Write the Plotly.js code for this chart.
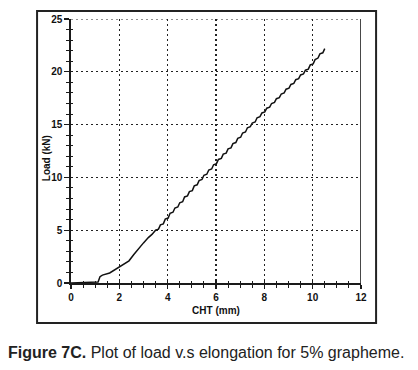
<!DOCTYPE html>
<html>
<head>
<meta charset="utf-8">
<script src="https://cdn.plot.ly/plotly-3.0.1.min.js"></script>
<style>
html,body{margin:0;padding:0;background:#fff;}
#chart{width:418px;height:370px;}
</style>
</head>
<body>
<div id="chart"></div>
<script>
// Elongation (CHT, mm) and load (kN)
const elongation = [0, 0.6, 1.12, 1.2, 1.3, 1.6, 1.85, 2.0, 2.2, 2.4, 2.6, 2.8, 3.0, 3.2, 3.35,
  3.5, 3.62, 3.7, 3.82, 3.9, 4.02, 4.1, 4.22, 4.3, 4.42, 4.5, 4.62, 4.7, 4.82, 4.9, 5.02,
  5.1, 5.22, 5.3, 5.42, 5.5, 5.62, 5.7, 5.82, 5.9, 6.02, 6.1, 6.22, 6.3, 6.42, 6.5, 6.62,
  6.7, 6.82, 6.9, 7.02, 7.1, 7.22, 7.3, 7.42, 7.5, 7.62, 7.7, 7.82, 7.9, 8.02, 8.1, 8.22,
  8.3, 8.42, 8.5, 8.62, 8.7, 8.82, 8.9, 9.02, 9.1, 9.22, 9.3, 9.42, 9.5, 9.62, 9.7, 9.82,
  9.9, 10.02, 10.1, 10.22, 10.3, 10.42, 10.5];
const load = [0, 0.05, 0.1, 0.6, 0.75, 0.95, 1.3, 1.55, 1.75, 2.1, 2.7, 3.3, 3.8, 4.3, 4.6,
  5.0, 5.1, 5.5, 5.6, 6.05, 6.15, 6.6, 6.7, 7.1, 7.2, 7.6, 7.7, 8.15, 8.25, 8.65, 8.75,
  9.2, 9.3, 9.7, 9.8, 10.2, 10.3, 10.7, 10.8, 11.2, 11.3, 11.7, 11.8, 12.2, 12.3, 12.7, 12.8,
  13.2, 13.3, 13.7, 13.8, 14.2, 14.3, 14.7, 14.8, 15.15, 15.25, 15.65, 15.75, 16.1, 16.2, 16.55, 16.65,
  17.0, 17.1, 17.45, 17.55, 17.9, 18.0, 18.35, 18.45, 18.8, 18.9, 19.25, 19.35, 19.7, 19.8, 20.15, 20.25,
  20.65, 20.75, 21.15, 21.3, 21.7, 21.8, 22.2];
const xTicks = [0, 2, 4, 6, 8, 10, 12];
const yTicks = [0, 5, 10, 15, 20, 25];
const xTitle = 'CHT (mm)';
const yTitle = 'Load (kN)';
const caption = '<b>Figure 7C.</b> Plot of load v.s elongation for 5% grapheme.';

const tickFont = {family: 'Liberation Sans, Arial, sans-serif', size: 10, weight: 'bold', color: '#111'};
const titleFont = {family: 'Liberation Sans, Arial, sans-serif', size: 10, weight: 'bold', color: '#111'};
const ink = '#1a1a1a';

const data = [
  {x: elongation, y: load, type: 'scatter', mode: 'lines',
   line: {color: '#111', width: 1.5}, hoverinfo: 'skip', showlegend: false},
  {x: [0], y: [0], xaxis: 'x2', yaxis: 'y2', type: 'scatter', mode: 'lines',
   line: {width: 0}, hoverinfo: 'skip', showlegend: false}
];

const layout = {
  width: 418, height: 370,
  margin: {l: 71, r: 57, t: 19, b: 87},
  paper_bgcolor: '#fff', plot_bgcolor: '#fff',
  showlegend: false,
  xaxis: {
    range: [0, 12], tickvals: xTicks, ticktext: xTicks.map(String),
    ticks: 'outside', ticklen: 4, tickwidth: 1.2, tickcolor: ink,
    minor: {dtick: 0.5, ticks: 'outside', ticklen: 3, tickcolor: ink, tickwidth: 1, showgrid: false},
    showline: true, linecolor: ink, linewidth: 1.6,
    showgrid: true, gridcolor: '#222', gridwidth: 1.2, griddash: '2px,3px',
    zeroline: false, tickfont: tickFont,
    title: {text: xTitle, font: titleFont, standoff: 5},
    fixedrange: true
  },
  yaxis: {
    range: [0, 25], tickvals: yTicks, ticktext: yTicks.map(String),
    ticks: 'outside', ticklen: 5, tickwidth: 1.2, tickcolor: ink,
    minor: {dtick: 1, ticks: 'outside', ticklen: 3, tickcolor: ink, tickwidth: 1, showgrid: false},
    showline: true, linecolor: ink, linewidth: 1.6,
    showgrid: true, gridcolor: '#222', gridwidth: 1.2, griddash: '2px,3px',
    zeroline: false, tickfont: tickFont,
    title: {text: ''},
    fixedrange: true
  },
  xaxis2: {
    overlaying: 'x', matches: 'x', anchor: 'y2', side: 'bottom',
    tickvals: xTicks, showticklabels: false,
    ticks: 'inside', ticklen: 3, tickwidth: 1.2, tickcolor: ink,
    minor: {dtick: 0.5, ticks: 'inside', ticklen: 2, tickcolor: ink, tickwidth: 1, showgrid: false},
    showline: false, showgrid: false, zeroline: false, fixedrange: true
  },
  yaxis2: {
    overlaying: 'y', matches: 'y', anchor: 'x2', side: 'left',
    tickvals: yTicks, showticklabels: false,
    ticks: 'inside', ticklen: 2, tickwidth: 1.2, tickcolor: ink,
    minor: {dtick: 1, ticks: 'inside', ticklen: 2, tickcolor: ink, tickwidth: 1, showgrid: false},
    showline: false, showgrid: false, zeroline: false, fixedrange: true
  },
  shapes: [
    {type: 'line', xref: 'x', yref: 'paper', x0: 12, x1: 12, y0: 0, y1: 1,
     line: {color: ink, width: 1.6}},
    {type: 'line', xref: 'paper', yref: 'y', x0: 0, x1: 1, y0: 25, y1: 25,
     line: {color: '#222', width: 1.2, dash: '2px,3px'}},
    {type: 'rect', xref: 'paper', yref: 'paper', x0: -0.117, x1: 1.052, y0: -0.1515, y1: 1.030,
     line: {color: '#222', width: 2}, fillcolor: 'rgba(0,0,0,0)'}
  ],
  annotations: [
    {text: yTitle, xref: 'paper', yref: 'paper', x: -0.086, y: 0.473,
     xanchor: 'center', yanchor: 'middle', textangle: -90, showarrow: false,
     font: titleFont},
    {text: caption, xref: 'paper', yref: 'paper', x: 0.466, y: -0.265,
     xanchor: 'center', yanchor: 'middle', showarrow: false,
     font: {family: 'Liberation Sans, Arial, sans-serif', size: 16, color: '#222'}}
  ]
};

Plotly.newPlot('chart', data, layout, {displayModeBar: false, staticPlot: true});
</script>
</body>
</html>
